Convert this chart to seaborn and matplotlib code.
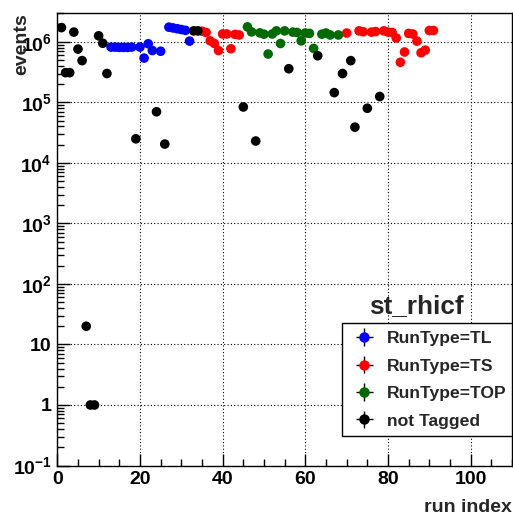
import numpy as np
import pandas as pd
import matplotlib
matplotlib.use("Agg")
import matplotlib.pyplot as plt
import matplotlib.ticker as mticker
import seaborn as sns

# ---- data ----
tl_runs = [13, 14, 15, 16, 17, 18, 20, 21, 22, 23, 25, 27, 28, 29, 30, 31, 32]
tl_events = [8.2e5, 8.2e5, 8.1e5, 8.1e5, 8.1e5, 8.2e5, 8.2e5, 5.4e5, 9.3e5, 7.2e5, 7.0e5,
             1.75e6, 1.7e6, 1.65e6, 1.6e6, 1.55e6, 1.03e6]

ts_runs = [35, 36, 37, 38, 39, 40, 41, 42, 43, 44, 70, 73, 74, 76, 77, 79, 80, 81, 82, 83,
           84, 85, 86, 87, 88, 89, 90, 91]
ts_events = [1.5e6, 1.43e6, 1.04e6, 9.4e5, 7.2e5, 1.35e6, 1.35e6, 7.7e5, 1.33e6, 1.3e6,
             1.4e6, 1.52e6, 1.47e6, 1.45e6, 1.48e6, 1.52e6, 1.45e6, 1.43e6, 1.16e6, 4.6e5,
             6.8e5, 1.38e6, 1.35e6, 1.03e6, 6.6e5, 7.3e5, 1.54e6, 1.54e6]

top_runs = [46, 47, 49, 50, 51, 52, 53, 54, 55, 57, 58, 59, 60, 61, 62, 64, 65, 66, 68]
top_events = [1.77e6, 1.46e6, 1.41e6, 1.34e6, 6.3e5, 1.35e6, 1.52e6, 9.4e5, 1.52e6,
              1.45e6, 1.43e6, 1.04e6, 1.4e6, 1.38e6, 7.8e5, 1.34e6, 1.4e6, 1.3e6, 1.3e6]

nt_runs = [1, 2, 3, 4, 5, 6, 7, 8, 9, 10, 11, 12, 19, 24, 26, 33, 34, 45, 48, 56, 63,
           67, 69, 71, 72, 75, 78]
nt_events = [1.72e6, 3.1e5, 3.1e5, 1.45e6, 7.6e5, 4.9e5, 20, 1, 1, 1.26e6, 9.5e5, 3.0e5,
             2.5e4, 7.0e4, 2.05e4, 1.52e6, 1.52e6, 8.4e4, 2.3e4, 3.6e5, 5.9e5, 1.45e5,
             3.0e5, 4.9e5, 3.9e4, 8.0e4, 1.25e5]

labels = ["RunType=TL", "RunType=TS", "RunType=TOP", "not Tagged"]
colors = ["#0000ff", "#ff0000", "#006a00", "#000000"]
title = "st_rhicf"

df = pd.concat([
    pd.DataFrame({"run": tl_runs, "events": tl_events, "type": labels[0]}),
    pd.DataFrame({"run": ts_runs, "events": ts_events, "type": labels[1]}),
    pd.DataFrame({"run": top_runs, "events": top_events, "type": labels[2]}),
    pd.DataFrame({"run": nt_runs, "events": nt_events, "type": labels[3]}),
], ignore_index=True)

# ---- style ----
sns.set_theme(style="white")
plt.rcParams["font.family"] = ["Liberation Sans", "DejaVu Sans"]
plt.rcParams["font.weight"] = "bold"
plt.rcParams["mathtext.fontset"] = "custom"
plt.rcParams["mathtext.rm"] = "Liberation Sans:bold"
plt.rcParams["mathtext.bf"] = "Liberation Sans:bold"
plt.rcParams["mathtext.it"] = "Liberation Sans:bold"
plt.rcParams["mathtext.default"] = "bf"

W, H = 513, 517
fig = plt.figure(figsize=(W / 100, H / 100), dpi=100)
L, R, T, B = 57.3, 512, 13, 465.5
ax = fig.add_axes([L / W, 1 - B / H, (R - L) / W, (B - T) / H])

sns.scatterplot(data=df, x="run", y="events", hue="type", hue_order=labels,
                palette=dict(zip(labels, colors)), s=48, linewidth=0,
                legend=False, ax=ax, zorder=3)

ax.set_yscale("log")
ax.set_xlim(0, 110)
ax.set_ylim(0.1, 3.0e6)

for sp in ax.spines.values():
    sp.set_color("black")
    sp.set_linewidth(1.0)

ax.xaxis.set_major_locator(mticker.MultipleLocator(20))
ax.xaxis.set_minor_locator(mticker.MultipleLocator(5))
ax.yaxis.set_major_locator(mticker.LogLocator(base=10, numticks=20))
ax.yaxis.set_minor_locator(mticker.LogLocator(base=10, subs=np.arange(2, 10), numticks=20))
ax.yaxis.set_minor_formatter(mticker.NullFormatter())


def yfmt(v, pos):
    e = int(round(np.log10(v)))
    if e == 0:
        return "1"
    if e == 1:
        return "10"
    return r"$10^{%d}$" % e


ax.yaxis.set_major_formatter(mticker.FuncFormatter(yfmt))

ax.tick_params(which="both", direction="in", colors="black", labelsize=14,
               bottom=True, left=True, top=False, right=False)
ax.tick_params(which="major", length=9, width=1, pad=4)
ax.tick_params(which="minor", length=5, width=1)
for lab in ax.get_xticklabels() + ax.get_yticklabels():
    lab.set_fontweight("bold")

ax.grid(True, which="major", linestyle=(0, (1, 2)), color="black", linewidth=0.8)
ax.set_axisbelow(True)

ax.set_xlabel("run index", fontsize=14, fontweight="bold", loc="right")
ax.xaxis.set_label_coords(1.0, -(507 - B) / (B - T))
ax.xaxis.label.set_va("center")
ax.set_ylabel("events", fontsize=14, fontweight="bold", loc="top")
ax.yaxis.set_label_coords(-(L - 22) / (R - L), 1.0)
ax.yaxis.label.set_va("center")

fig.text(416 / W, 1 - 306 / H, title, ha="center", va="center",
         fontsize=18.8, fontweight="bold")

handles = []
for lab, c in zip(labels, colors):
    h = ax.errorbar([np.nan], [np.nan], xerr=[1], yerr=[1], fmt="o", color=c,
                    ecolor="black", elinewidth=1, markersize=6.5, label=lab)
    handles.append(h)

leg = ax.legend(handles=handles, labels=labels, loc="upper left",
                bbox_to_anchor=(342 / W, 1 - 437 / H, (512 - 342) / W, (437 - 323) / H),
                bbox_transform=fig.transFigure, mode="expand", borderaxespad=0,
                prop={"weight": "bold", "size": 12.6},
                frameon=True, fancybox=False, framealpha=1, edgecolor="black",
                borderpad=0.45, labelspacing=0.7, handlelength=1.65, handletextpad=0.45)
leg.get_frame().set_linewidth(1.0)
leg.set_zorder(5)

fig.savefig("out.png", dpi=100)
